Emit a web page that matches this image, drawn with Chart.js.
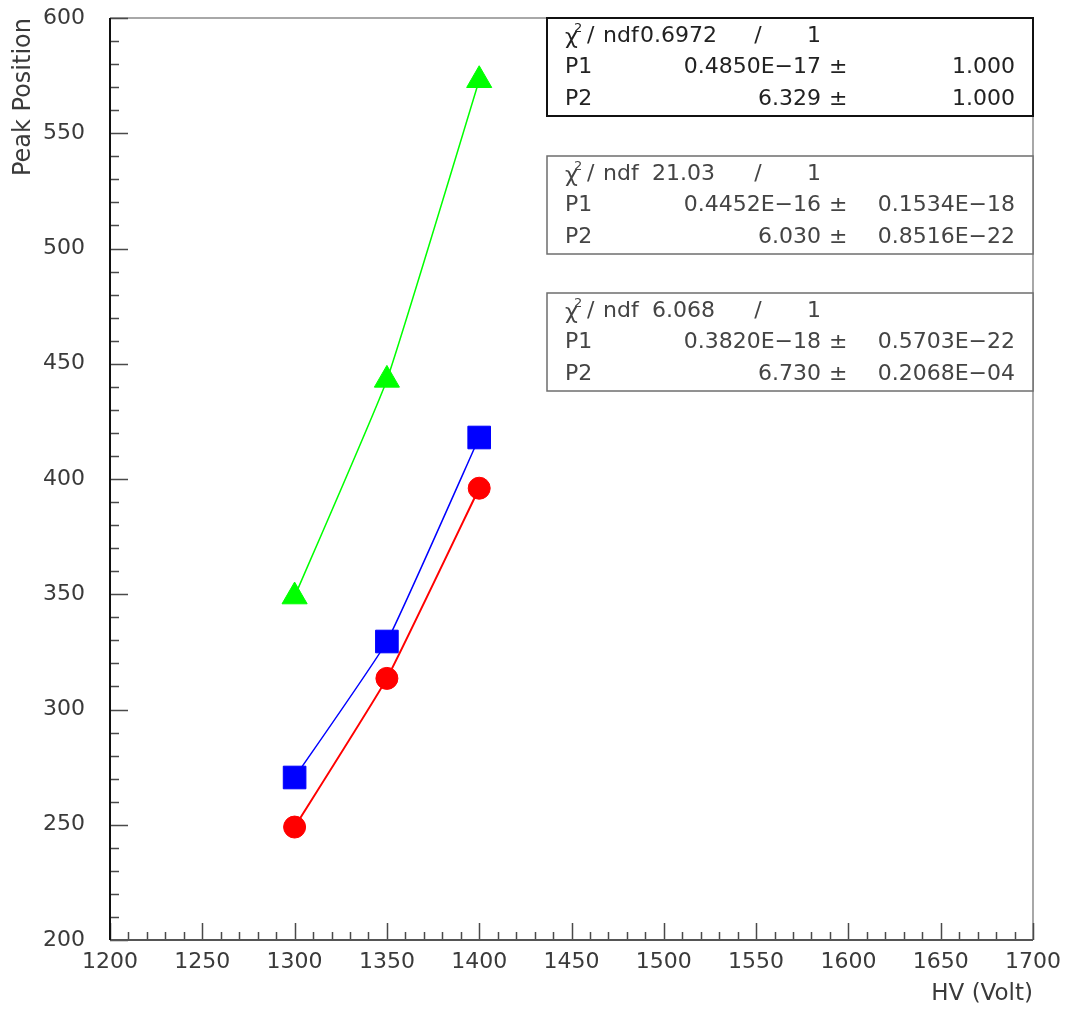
<!DOCTYPE html>
<html>
<head>
<meta charset="utf-8">
<script src="https://cdn.jsdelivr.net/npm/chart.js@4.4.1/dist/chart.umd.min.js"></script>
<style>
html,body{margin:0;padding:0;background:#fff;}
#wrap{width:1069px;height:1012px;position:relative;}
</style>
</head>
<body>
<div id="wrap"><canvas id="c"></canvas></div>
<script>
// ---- data ----
const hv = [1300, 1350, 1400];
const peakRed = [249, 313.5, 396];
const peakBlue = [270.5, 329.5, 418];
const peakGreen = [349, 443, 573];

const xTicks = [1200, 1250, 1300, 1350, 1400, 1450, 1500, 1550, 1600, 1650, 1700];
const yTicks = [200, 250, 300, 350, 400, 450, 500, 550, 600];

const xTitle = 'HV (Volt)';
const yTitle = 'Peak Position';

// fit statistic boxes (top to bottom)
const chiValues = ['0.6972', '21.03', '6.068'];
const ndfValues = ['1', '1', '1'];
const p1Values = ['0.4850E\u221217', '0.4452E\u221216', '0.3820E\u221218'];
const p1Errors = ['1.000', '0.1534E\u221218', '0.5703E\u221222'];
const p2Values = ['6.329', '6.030', '6.730'];
const p2Errors = ['1.000', '0.8516E\u221222', '0.2068E\u221204'];

const FONT = '"DejaVu Sans", "Liberation Sans", sans-serif';

function toPoints(xs, ys){ return xs.map((x,i)=>({x:x, y:ys[i]})); }

// ROOT-style frame with inside ticks
const frameTicks = {
  id: 'frameTicks',
  beforeDatasetsDraw(chart){
    const {ctx, chartArea:a, scales:{x, y}} = chart;
    ctx.save();
    ctx.strokeStyle = '#8c8c8c';
    ctx.lineWidth = 1.5;
    ctx.beginPath();
    ctx.moveTo(a.left, a.top); ctx.lineTo(a.right, a.top); ctx.lineTo(a.right, a.bottom);
    ctx.stroke();
    ctx.strokeStyle = '#4a4a4a';
    ctx.lineWidth = 1.5;
    ctx.beginPath();
    for (let v = x.min; v <= x.max + 1e-6; v += 10){
      const px = Math.round(x.getPixelForValue(v)) + 0.5;
      const len = (Math.round(v) % 50 === 0) ? 17 : 8;
      ctx.moveTo(px, a.bottom); ctx.lineTo(px, a.bottom - len);
    }
    for (let v = y.min; v <= y.max + 1e-6; v += 10){
      const py = Math.round(y.getPixelForValue(v)) + 0.5;
      const len = (Math.round(v) % 50 === 0) ? 18 : 9;
      ctx.moveTo(a.left, py); ctx.lineTo(a.left + len, py);
    }
    ctx.stroke();
    ctx.strokeStyle = '#555';
    ctx.lineWidth = 2;
    ctx.beginPath(); ctx.moveTo(a.left, a.bottom); ctx.lineTo(a.right, a.bottom); ctx.stroke();
    ctx.strokeStyle = '#111';
    ctx.lineWidth = 2;
    ctx.beginPath(); ctx.moveTo(a.left, a.top); ctx.lineTo(a.left, a.bottom); ctx.stroke();
    ctx.restore();
  }
};

// fit statistics boxes
const statBoxes = {
  id: 'statBoxes',
  afterDatasetsDraw(chart){
    const {ctx, chartArea:a} = chart;
    const left = a.left + 437;
    const right = a.right;
    const tops = [a.top, a.top + 138, a.top + 275];
    const h = 98;
    ctx.save();
    tops.forEach((top, i) => {
      ctx.fillStyle = '#fff';
      ctx.fillRect(left, top, right - left, h);
      ctx.strokeStyle = i === 0 ? '#111' : '#6e6e6e';
      ctx.lineWidth = i === 0 ? 2 : 1.5;
      ctx.strokeRect(left, top, right - left, h);
      const col = i === 0 ? '#222' : '#444';
      ctx.fillStyle = col;
      ctx.textBaseline = 'middle';
      const r1 = top + 18, r2 = top + 49.5, r3 = top + 81;
      ctx.font = '22px ' + FONT;
      ctx.textAlign = 'left';
      ctx.fillText('\u03c7', left + 18, r1 + 2);
      ctx.font = '13px ' + FONT;
      ctx.fillText('2', left + 27, r1 - 7);
      ctx.font = '22px ' + FONT;
      ctx.fillText('/', left + 40, r1);
      ctx.fillText('ndf', left + 56, r1);
      ctx.fillText(chiValues[i], left + (i === 0 ? 93 : 105), r1);
      ctx.textAlign = 'center';
      ctx.fillText('/', left + 211, r1);
      ctx.fillText(ndfValues[i], left + 267, r1);
      ctx.textAlign = 'left';
      ctx.fillText('P1', left + 18, r2);
      ctx.fillText('P2', left + 18, r3);
      ctx.textAlign = 'right';
      ctx.fillText(p1Values[i], left + 274, r2);
      ctx.fillText(p2Values[i], left + 274, r3);
      ctx.textAlign = 'left';
      ctx.fillText('\u00b1', left + 282, r2);
      ctx.fillText('\u00b1', left + 282, r3);
      ctx.textAlign = 'right';
      ctx.fillText(p1Errors[i], right - 18, r2);
      ctx.fillText(p2Errors[i], right - 18, r3);
    });
    ctx.restore();
  }
};

const tickFont = {family: FONT, size: 22};
const plain = v => String(v);

new Chart(document.getElementById('c'), {
  type: 'scatter',
  data: {
    datasets: [
      {
        label: 'red', data: toPoints(hv, peakRed), showLine: true,
        borderColor: '#ff0000', backgroundColor: '#ff0000', borderWidth: 2,
        pointStyle: 'circle', pointRadius: 11, pointBorderWidth: 1,
        pointBorderColor: '#ff0000', pointBackgroundColor: '#ff0000',
        tension: 0.12
      },
      {
        label: 'blue', data: toPoints(hv, peakBlue), showLine: true,
        borderColor: '#0000ff', backgroundColor: '#0000ff', borderWidth: 1.5,
        pointStyle: 'rect', pointRadius: 16, pointBorderWidth: 1,
        pointBorderColor: '#0000ff', pointBackgroundColor: '#0000ff',
        tension: 0.12
      },
      {
        label: 'green', data: toPoints(hv, peakGreen), showLine: true,
        borderColor: '#00ff00', backgroundColor: '#00ff00', borderWidth: 1.5,
        pointStyle: 'triangle', pointRadius: 14.5, pointBorderWidth: 1,
        pointBorderColor: '#00ff00', pointBackgroundColor: '#00ff00',
        tension: 0.12
      }
    ]
  },
  options: {
    responsive: true,
    maintainAspectRatio: false,
    animation: false,
    events: [],
    layout: {padding: {top: 18, right: 36, left: 0, bottom: 0}},
    plugins: {legend: {display: false}, tooltip: {enabled: false}},
    scales: {
      x: {
        type: 'linear', position: 'bottom',
        min: xTicks[0], max: xTicks[xTicks.length - 1],
        afterBuildTicks: s => { s.ticks = xTicks.map(v => ({value: v})); },
        afterFit: s => { s.height = 72; s.paddingLeft = 0; s.paddingRight = 0; },
        grid: {display: false, drawTicks: false},
        border: {display: false},
        ticks: {font: tickFont, color: '#3a3a3a', padding: 9, maxRotation: 0, autoSkip: false, callback: plain},
        title: {display: true, text: xTitle, align: 'end', color: '#3a3a3a',
                font: {family: FONT, size: 23}, padding: {top: 0, bottom: 4}}
      },
      y: {
        type: 'linear', position: 'left',
        min: yTicks[0], max: yTicks[yTicks.length - 1],
        afterBuildTicks: s => { s.ticks = yTicks.map(v => ({value: v})); },
        afterFit: s => { s.width = 110; s.paddingTop = 0; s.paddingBottom = 0; },
        grid: {display: false, drawTicks: false},
        border: {display: false},
        ticks: {font: tickFont, color: '#3a3a3a', padding: 25, autoSkip: false, callback: plain},
        title: {display: true, text: yTitle, align: 'end', color: '#3a3a3a',
                font: {family: FONT, size: 24}, padding: {top: 9, bottom: 0}}
      }
    }
  },
  plugins: [frameTicks, statBoxes]
});
</script>
</body>
</html>
